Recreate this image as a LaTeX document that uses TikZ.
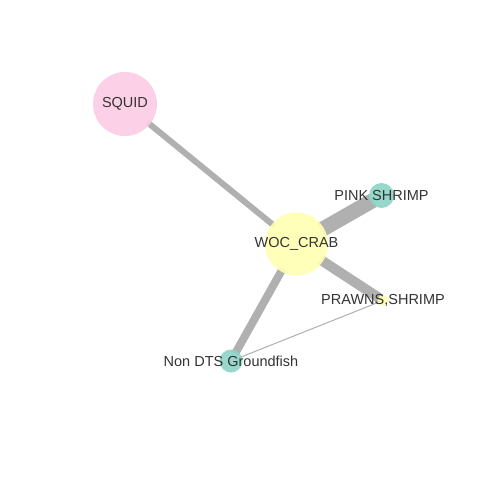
\documentclass[tikz,border=0pt]{standalone}
\usepackage{fontspec}
\setmainfont{Liberation Sans}
\usetikzlibrary{backgrounds}
\definecolor{edgegray}{HTML}{B0B0B0}
\definecolor{npink}{HTML}{FCCDE5}
\definecolor{nyellow}{HTML}{FFFFB3}
\definecolor{nteal}{HTML}{8DD3C7}
\definecolor{labelgray}{HTML}{333333}
\begin{document}
\begin{tikzpicture}[x=1pt,y=-1pt,
  vtx/.style={circle,inner sep=0pt,draw=none,fill opacity=0.9},
  lbl/.style={text=labelgray,font=\fontsize{14.5}{15}\selectfont,inner sep=0pt},
  edg/.style={draw=edgegray,line cap=butt,shorten <=-3pt,shorten >=-3pt}]
\useasboundingbox (0,0) rectangle (480,480);
% nodes
\node[vtx,fill=npink,minimum size=64] (nsquid) at (125,104) {};
\node[vtx,fill=nyellow,minimum size=63] (nwoc) at (296.5,244) {};
\node[vtx,fill=nteal,minimum size=25] (npink) at (381.5,195.5) {};
\node[vtx,fill=nyellow,minimum size=11] (nprawn) at (383,300.5) {};
\node[vtx,fill=nteal,minimum size=23] (nndts) at (231,361) {};
% edges
\begin{scope}[on background layer]
\fill[white] (0,0) rectangle (480,480);
\draw[edg,line width=6] (nsquid) -- (nwoc);
\draw[edg,line width=15] (nwoc) -- (npink);
\draw[edg,line width=10] (nwoc) -- (nprawn);
\draw[edg,line width=8] (nwoc) -- (nndts);
\draw[edg,line width=1] (nndts) -- (nprawn);
\end{scope}
% labels
\node[lbl] (tsquid) at (nsquid) {SQUID};
\node[lbl] (twoc) at (nwoc) {WOC\_CRAB};
\node[lbl] (tpink) at (npink) {PINK SHRIMP};
\node[lbl] (tprawn) at (nprawn) {PRAWNS,SHRIMP};
\node[lbl] (tndts) at (nndts) {Non DTS Groundfish};
\end{tikzpicture}
\end{document}
